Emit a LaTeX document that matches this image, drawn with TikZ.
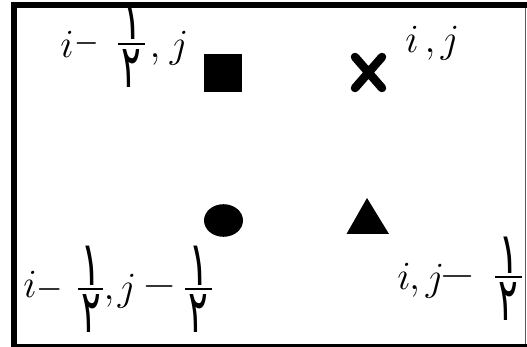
\RequirePackage{fix-cm}
\documentclass[tikz,border=0pt]{standalone}
\usepackage{fontspec}
\usepackage{graphicx}
\newfontfamily\ardig[Script=Arabic]{DejaVu Sans}
\newcommand{\tallone}{\scalebox{0.85}[1.35]{١}}
\newcommand{\talloneb}{\scalebox{0.85}[1.25]{١}}
\newcommand{\talltwo}{\scalebox{0.8}[1.3]{٢}}
\tikzset{
  lbl/.style={inner sep=0pt, outer sep=0pt, anchor=base, font=\fontsize{40}{48}\selectfont},
  dig/.style={inner sep=0pt, outer sep=0pt, font=\fontsize{46}{54}\selectfont\ardig},
  barline/.style={line width=2pt},
  framebar/.style={fill=black},
}
\begin{document}
\begin{tikzpicture}[x=1pt,y=-1pt]
\useasboundingbox (0,0) rectangle (527,347);
% frame
\fill[framebar] (11,2) rectangle (527,8);
\fill[framebar] (11,2) rectangle (17,346.5);
\fill[framebar] (11,343.5) rectangle (527,346.5);
\draw[gray!70!black, line width=1.2pt] (525.8,8) -- (525.8,344);
% markers
\fill (204,54) rectangle (242,92);
\draw[line width=8.5pt, line cap=round] (355,57) -- (382,88) (355,88) -- (382,57);
\fill (223.5,220.5) ellipse [x radius=19.5, y radius=16.3];
\fill (367,198) -- (389,234) -- (346.5,234) -- cycle;
% top-left label
\node[lbl] (tli) at (67,58) {$i$};
\node[lbl] (tlm) at (86.5,54) {\scalebox{0.79}[1]{$-$}};
\node[dig, anchor=south] (tln) at (131.5,40) {\talloneb};
\node[dig, anchor=north] (tld) at (131.5,50) {\talltwo};
\draw[barline] (118,44) -- (145,44);
\node[lbl] (tlc) at (155,58) {$,$};
\node[lbl] (tlj) at (179,58) {$j$};
% top-right label
\node[lbl] (tri) at (412,53) {$i$};
\node[lbl] (trc) at (430,53) {$,$};
\node[lbl] (trj) at (450,53) {$j$};
% bottom-left label
\node[lbl] (bli) at (30,297) {$i$};
\node[lbl] (blm) at (50,299) {\scalebox{0.85}[1]{$-$}};
\node[dig, anchor=south] (bln) at (91,285) {\tallone};
\node[dig, anchor=north] (bld) at (91,295) {\talltwo};
\draw[barline] (78,289) -- (103,289);
\node[lbl] (blc) at (109,299) {$,$};
\node[lbl] (blj) at (127,300) {$j$};
\node[lbl] (blm2) at (160,296) {\scalebox{1.1}[1]{$-$}};
\node[dig, anchor=south] (bln2) at (198.5,285) {\tallone};
\node[dig, anchor=north] (bld2) at (198.5,295) {\talltwo};
\draw[barline] (185,289) -- (212,289);
% bottom-right label
\node[lbl] (bri) at (404,289) {$i$};
\node[lbl] (brc) at (414.5,289) {$,$};
\node[lbl] (brj) at (435,290) {$j$};
\node[lbl] (brm) at (457.5,287) {\scalebox{1.16}[1]{$-$}};
\node[dig, anchor=south] (brn) at (508.5,273) {\talloneb};
\node[dig, anchor=north] (brd) at (508.5,283) {\talltwo};
\draw[barline] (495,277) -- (522,277);
\end{tikzpicture}
\end{document}
